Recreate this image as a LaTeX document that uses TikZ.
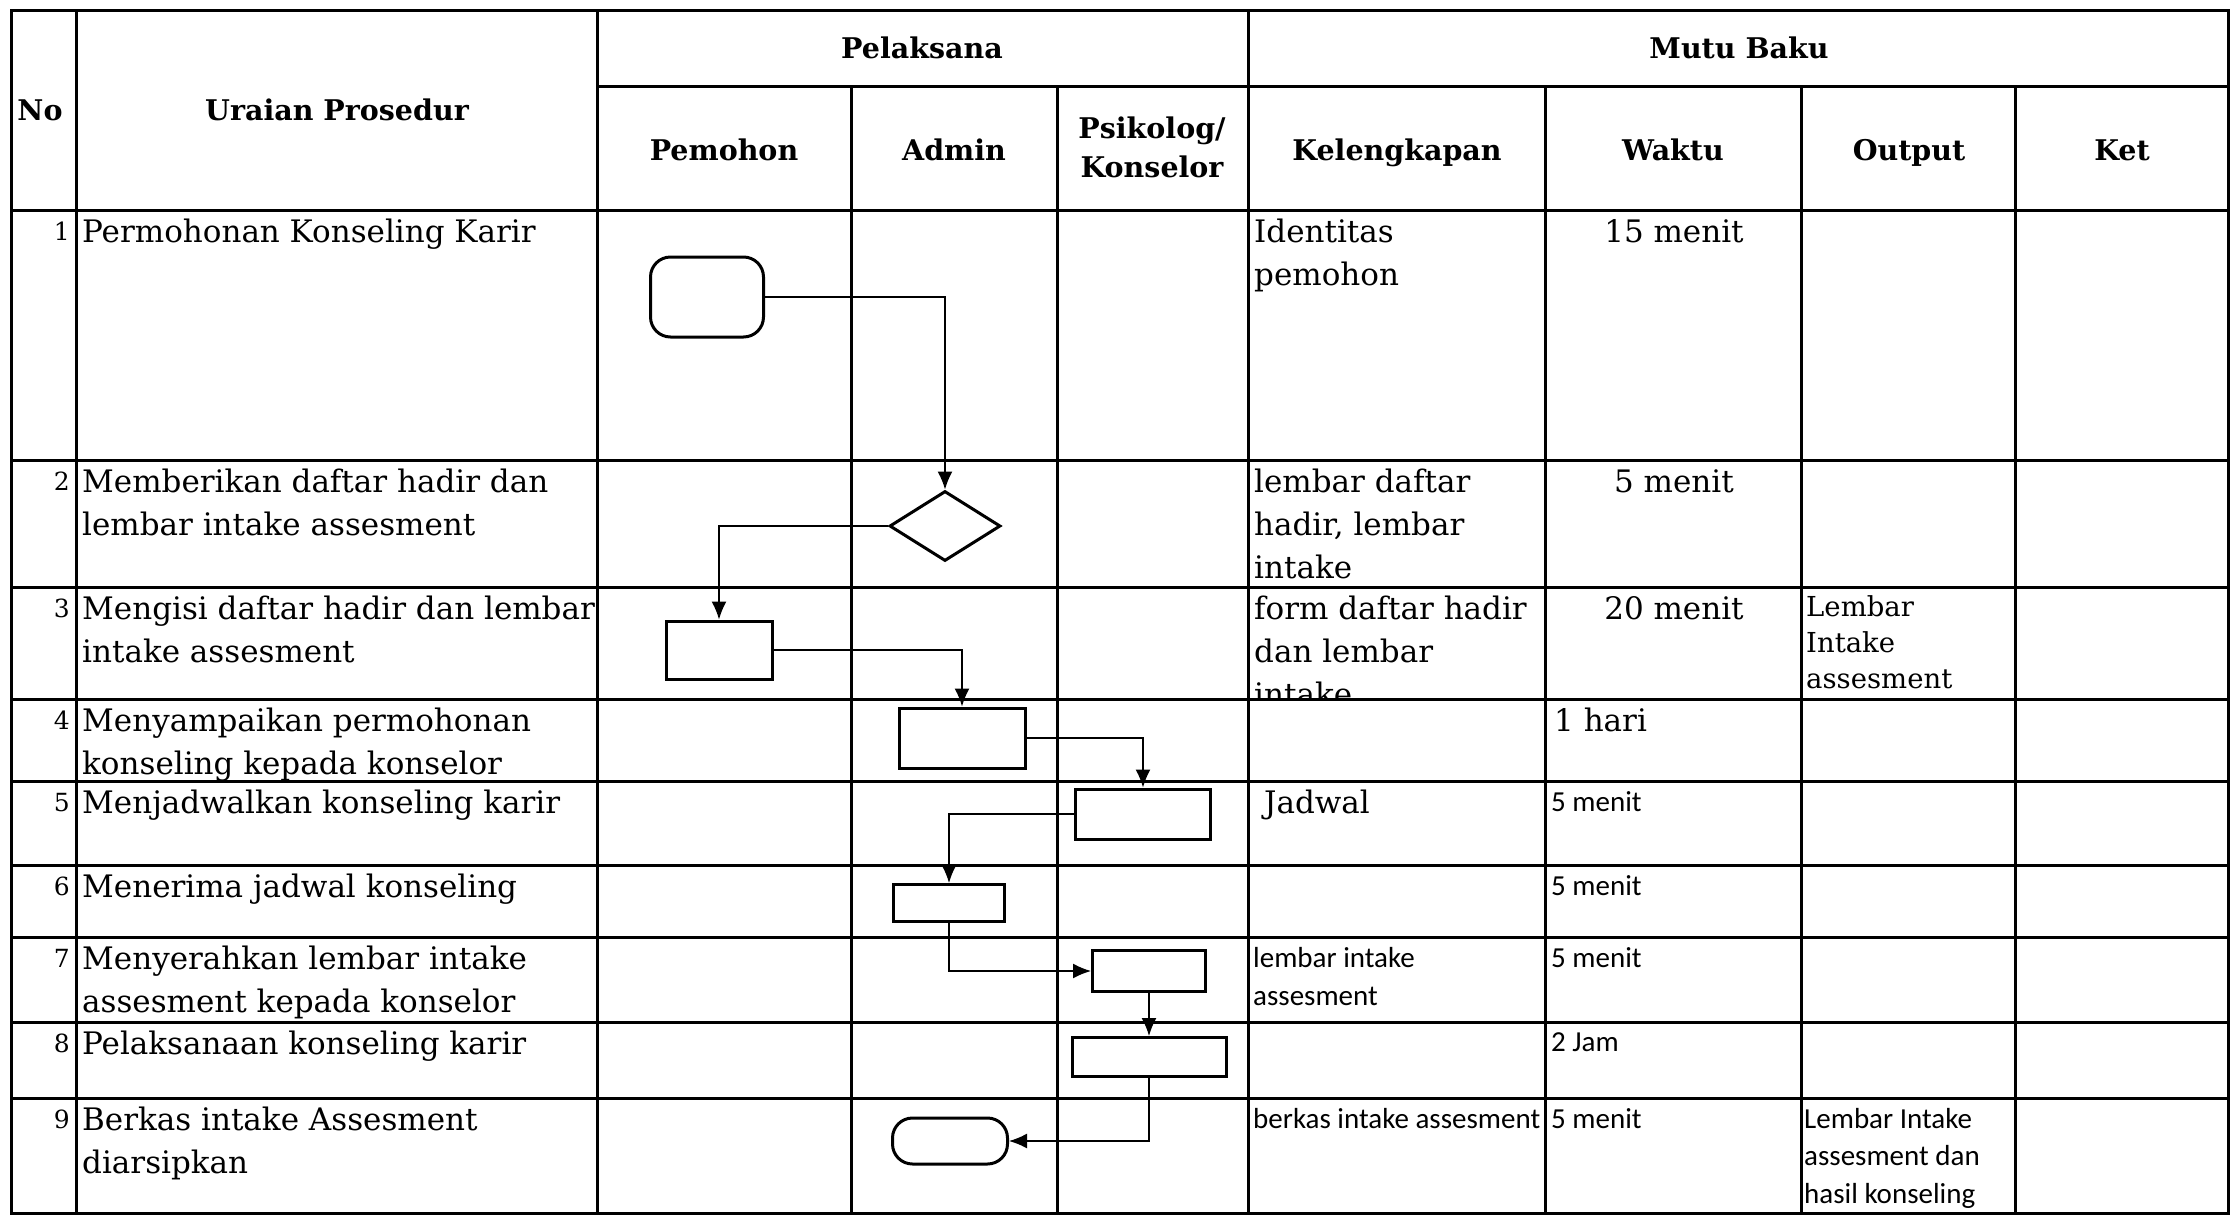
\documentclass[tikz,border=0pt]{standalone}
\usepackage{fontspec}
\setmainfont{DejaVu Serif}
\newfontfamily\calibri{Carlito}
\usetikzlibrary{shapes.geometric,arrows.meta}

\begin{document}
\begin{tikzpicture}[x=1pt, y=-1pt,
    grid/.style={line width=3pt},
    head/.style={font=\bfseries\fontsize{28.5}{39}\selectfont, align=center, inner sep=0pt},
    txt/.style={anchor=north west, align=left, inner sep=0pt, font=\fontsize{31}{43}\selectfont},
    num/.style={anchor=base east, inner sep=0pt, font=\fontsize{25}{30}\selectfont},
    sans/.style={anchor=north west, align=left, inner sep=0pt, font=\calibri\fontsize{29}{38}\selectfont},
    box/.style={draw, line width=3pt, rectangle, inner sep=0pt},
    term/.style={box, rounded corners=20pt},
    decide/.style={draw, line width=3pt, diamond, inner sep=0pt},
    flow/.style={line width=1.5pt, -{Latex[length=18pt, width=15pt]}}]

        \useasboundingbox (0,0) rectangle (2239,1216);

        % Draw the frame and the header lines
        \draw[grid] (11,10) rectangle (2228,1213);
        \draw[grid] (597,86) -- (2228,86);
        \draw[grid] (11,210) -- (2228,210);

        % Draw the row lines
        \foreach \y in {460,587,699,781,865,937,1022,1098}
            \draw[grid] (11,\y) -- (2228,\y);

        % Draw the column lines
        \foreach \x in {76,597,1248}
            \draw[grid] (\x,10) -- (\x,1213);
        \foreach \x in {851,1057,1545,1801,2015}
            \draw[grid] (\x,86) -- (\x,1213);

        % Header texts
        \node[head, anchor=base] (hno) at (40,120) {No};
        \node[head, anchor=base] (hura) at (337,120) {Uraian Prosedur};
        \node[head, anchor=base] (hpel) at (922,58) {Pelaksana};
        \node[head, anchor=base] (hmutu) at (1739,58) {Mutu Baku};
        \node[head, anchor=base] (hpem) at (724,160) {Pemohon};
        \node[head, anchor=base] (hadm) at (954,160) {Admin};
        \node[head] (hpsi) at (1152,147) {Psikolog/\\Konselor};
        \node[head, anchor=base] (hkel) at (1397,160) {Kelengkapan};
        \node[head, anchor=base] (hwak) at (1673,160) {Waktu};
        \node[head, anchor=base] (hout) at (1909,160) {Output};
        \node[head, anchor=base] (hket) at (2122,160) {Ket};

        % Row numbers
        \node[num] (n1) at (70,240) {1};
        \node[num] (n2) at (70,490) {2};
        \node[num] (n3) at (70,617) {3};
        \node[num] (n4) at (70,729) {4};
        \node[num] (n5) at (70,811) {5};
        \node[num] (n6) at (70,895) {6};
        \node[num] (n7) at (70,967) {7};
        \node[num] (n8) at (70,1052) {8};
        \node[num] (n9) at (70,1128) {9};

        % Uraian prosedur
        \node[txt] (u1) at (82,219) {Permohonan Konseling Karir};
        \node[txt] (u2) at (82,469) {Memberikan daftar hadir dan\\lembar intake assesment};
        \node[txt] (u3) at (82,596) {Mengisi daftar hadir dan lembar\\intake assesment};
        \node[txt] (u4) at (82,708) {Menyampaikan permohonan\\konseling kepada konselor};
        \node[txt] (u5) at (82,790) {Menjadwalkan konseling karir};
        \node[txt] (u6) at (82,874) {Menerima jadwal konseling};
        \node[txt] (u7) at (82,946) {Menyerahkan lembar intake\\assesment kepada konselor};
        \node[txt] (u8) at (82,1031) {Pelaksanaan konseling karir};
        \node[txt] (u9) at (82,1107) {Berkas intake Assesment\\diarsipkan};

        % Kelengkapan
        \node[txt] (k1) at (1254,219) {Identitas\\pemohon};
        \node[txt] (k2) at (1254,469) {lembar daftar\\hadir, lembar\\intake};
        \begin{scope}
            \clip (1248,587) rectangle (1545,697.5);
            \node[txt] (k3) at (1254,596) {form daftar hadir\\dan lembar\\intake};
        \end{scope}
        \node[txt] (k5) at (1264,790) {Jadwal};
        \node[sans] (k7) at (1253,947) {lembar intake\\assesment};
        \node[sans] (k9) at (1253,1108) {berkas intake assesment};

        % Waktu
        \node[txt, anchor=north] (w1) at (1674,219) {15 menit};
        \node[txt, anchor=north] (w2) at (1674,469) {5 menit};
        \node[txt, anchor=north] (w3) at (1674,596) {20 menit};
        \node[txt] (w4) at (1554,708) {1 hari};
        \node[sans] (w5) at (1551,791) {5 menit};
        \node[sans] (w6) at (1551,875) {5 menit};
        \node[sans] (w7) at (1551,947) {5 menit};
        \node[sans] (w8) at (1551,1032) {2 Jam};
        \node[sans] (w9) at (1551,1108) {5 menit};

        % Output
        \node[txt, font=\fontsize{27.5}{36}\selectfont] (o3) at (1806,595) {Lembar\\Intake\\assesment};
        \node[sans, font=\calibri\fontsize{29}{37.5}\selectfont] (o9) at (1804,1108) {Lembar Intake\\assesment dan\\hasil konseling};

        % Flowchart symbols
        \node[term, minimum width=113pt, minimum height=80pt] (t1) at (707,297) {};
        \node[decide, minimum width=111pt, minimum height=70pt] (d2) at (945,526) {};
        \node[box, minimum width=106pt, minimum height=58pt] (r3) at (719,650) {};
        \node[box, minimum width=126pt, minimum height=60pt] (r4) at (962,738) {};
        \node[box, minimum width=135pt, minimum height=50pt] (r5) at (1143,814) {};
        \node[box, minimum width=111pt, minimum height=37pt] (r6) at (949,903) {};
        \node[box, minimum width=113pt, minimum height=41pt] (r7) at (1149,971) {};
        \node[box, minimum width=154pt, minimum height=39pt] (r8) at (1149,1057) {};
        \node[term, minimum width=115pt, minimum height=46pt] (t9) at (950,1141) {};

        % Connectors
        \draw[flow] (t1.east) -| (d2.north);
        \draw[flow] (d2.west) -| (r3.north);
        \draw[flow] (r3.east) -| (r4.north);
        \draw[flow] (r4.east) -| (r5.north);
        \draw[flow] (r5.west) -| (r6.north);
        \draw[flow] (r6.south) |- (r7.west);
        \draw[flow] (r7.south) -- (r8.north);
        \draw[flow] (r8.south) |- (t9.east);
      \end{tikzpicture}
\end{document}
